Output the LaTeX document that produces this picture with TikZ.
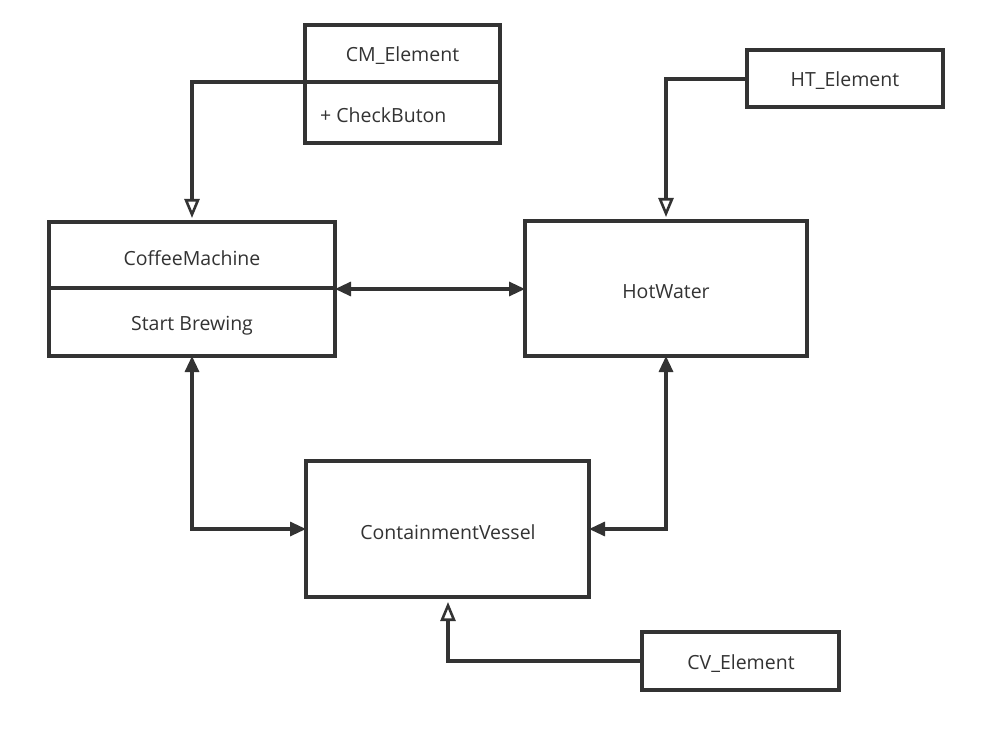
\documentclass[tikz,border=0pt]{standalone}
\usepackage{fontspec}
\setmainfont{Open Sans}
\usetikzlibrary{arrows.meta}
\definecolor{ink}{HTML}{333333}
\tikzset{
  box/.style={draw=ink, line width=3.2pt, fill=white, inner sep=0pt},
  lbl/.style={text=ink, font=\fontsize{19.5}{22}\selectfont, inner sep=0pt, yshift=-2pt},
  link/.style={draw=ink, line width=3.2pt},
  inh/.style={-{Triangle[open, length=19pt, width=15pt, line width=2.6pt]}},
  both/.style={{Triangle[length=16pt, width=14pt]}-{Triangle[length=16pt, width=14pt]}}
}
\begin{document}
\begin{tikzpicture}[x=1pt,y=-1pt]
\useasboundingbox (0,0) rectangle (1006,751);
% boxes
\draw[box] (305,25) rectangle (500,143);
\coordinate (cmL) at (305,82);
\draw[link] (305,82) -- (500,82);
\node[lbl] (cmt) at (402.5,54) {CM\_Element};
\node[lbl, anchor=west] (cma) at (320,113) {+ CheckButon};

\draw[box] (747,50) rectangle (943,107);
\coordinate (htL) at (747,79);
\node[lbl] (htt) at (845,79) {HT\_Element};

\draw[box] (49,222) rectangle (335,356);
\draw[link] (49,288) -- (335,288);
\node[lbl] (cft) at (192,256) {CoffeeMachine};
\node[lbl] (cfa) at (192,324) {Start Brewing};
\coordinate (cfT) at (192,222);
\coordinate (cfR) at (335,289);
\coordinate (cfB) at (192,356);

\draw[box] (525,221) rectangle (807,356);
\node[lbl] (hw) at (666,290) {HotWater};
\coordinate (hwT) at (666,221);
\coordinate (hwL) at (525,289);
\coordinate (hwB) at (666,356);

\draw[box] (306,461) rectangle (589,597);
\node[lbl] (cv) at (448,530) {ContainmentVessel};
\coordinate (cvL) at (306,529);
\coordinate (cvR) at (589,529);
\coordinate (cvB) at (448,597);

\draw[box] (642,632) rectangle (839,690);
\node[lbl] (cve) at (741,662) {CV\_Element};
\coordinate (cveL) at (642,661);

% connectors
\draw[link, inh, shorten >=4pt] (cmL) -| (cfT);
\draw[link, inh, shorten >=4pt] (htL) -| (hwT);
\draw[link, inh, shorten >=5pt] (cveL) -| (cvB);
\draw[link, both] (cfR) -- (hwL);
\draw[link, both] (cfB) |- (cvL);
\draw[link, both] (hwB) |- (cvR);
\end{tikzpicture}
\end{document}
